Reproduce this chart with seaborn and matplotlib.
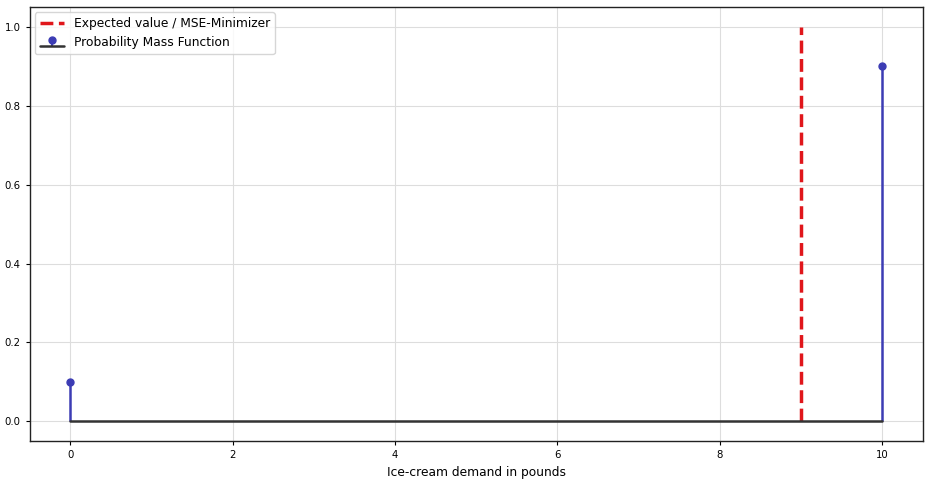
import numpy as np
import pandas as pd
import matplotlib
matplotlib.use("Agg")
import matplotlib.pyplot as plt
import seaborn as sns

# Data
demand = [0, 10]
probability = [0.1, 0.9]
expected_x = [9, 9]
expected_y = [0, 1]

sns.set_style("whitegrid", {"axes.edgecolor": "black", "grid.color": "#dddddd",
                            "xtick.bottom": True, "ytick.left": True,
                            "text.color": "black", "axes.labelcolor": "black",
                            "xtick.color": "black", "ytick.color": "black"})
plt.rcParams['font.family'] = ['DejaVu Sans']

fig, ax = plt.subplots(figsize=(9.3, 4.83), dpi=100)

df_ev = pd.DataFrame({"x": expected_x, "y": expected_y})
sns.lineplot(data=df_ev, x="x", y="y", ax=ax, color="#e0161b", linewidth=2.5,
             linestyle="--", label="Expected value / MSE-Minimizer",
             sort=False, estimator=None, errorbar=None)

markerline, stemlines, baseline = ax.stem(demand, probability,
                                          label="Probability Mass Function")
plt.setp(markerline, color="#3c3cb4", markersize=5)
plt.setp(stemlines, color="#3c3cb4", linewidth=1.8)
plt.setp(baseline, color="#333333", linewidth=1.8)

ax.set_xlim(-0.5, 10.5)
ax.set_ylim(-0.05, 1.05)
ax.set_xlabel("Ice-cream demand in pounds", fontsize=8.8)
ax.set_ylabel("")
ax.tick_params(axis="both", labelsize=7.3, length=3, width=0.8, colors="black")
for s in ax.spines.values():
    s.set_linewidth(1.0)
    s.set_color("#222222")
leg = ax.legend(loc="upper left", fontsize=8.8, frameon=True, borderaxespad=0.4)
for t in leg.get_texts():
    t.set_color("black")

fig.subplots_adjust(left=0.032, right=0.992, top=0.985, bottom=0.087)
fig.savefig("out.png", dpi=100)
